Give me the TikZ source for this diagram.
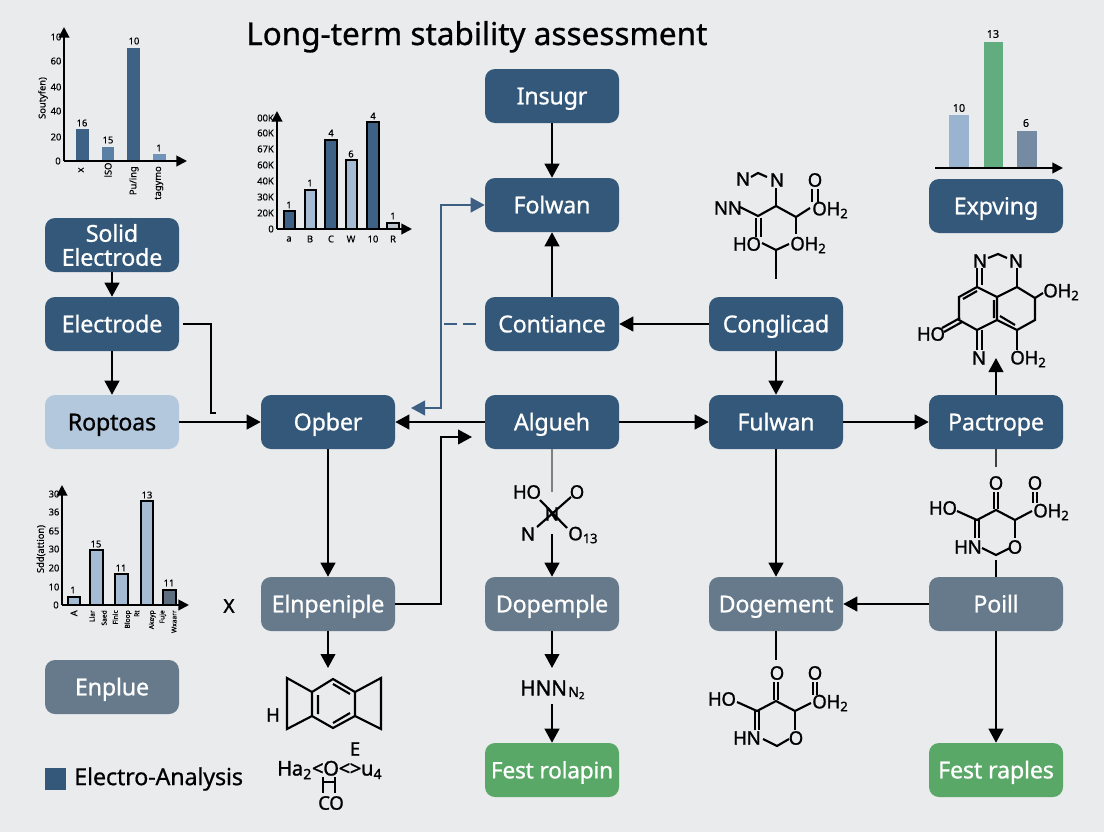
\documentclass[tikz,border=0pt]{standalone}
\usepackage{fontspec}
\setmainfont{Noto Sans}
\usetikzlibrary{arrows.meta}
\definecolor{bgc}{HTML}{EAEBED}
\definecolor{navy}{HTML}{33587A}
\definecolor{pale}{HTML}{B3C8DD}
\definecolor{slate}{HTML}{667A8B}
\definecolor{leaf}{HTML}{5AA868}
\definecolor{wireblue}{HTML}{3E5F84}
\definecolor{barA}{HTML}{3D6286}
\definecolor{barB}{HTML}{5A80A5}
\definecolor{barC}{HTML}{7094B8}
\definecolor{barD}{HTML}{A5BBD4}
\definecolor{barE}{HTML}{C0C6CE}
\definecolor{barF}{HTML}{5C6E80}
\definecolor{barG}{HTML}{9AB3CF}
\definecolor{barH}{HTML}{62AD80}
\definecolor{barI}{HTML}{748BA3}
\newcount\lblc
\newcommand{\lb}[4][]{\global\advance\lblc by 1 \node[chartlabel,#1] (lbl\the\lblc) at (#2,#3) {#4};}
\newcommand{\ch}[4][]{\global\advance\lblc by 1 \node[chemlabel,#1] (lbl\the\lblc) at (#2,#3) {#4};}
\tikzset{
  box/.style={rounded corners=7.5pt,minimum width=100.5pt,minimum height=40.5pt,inner sep=0pt,text=white,text height=12.5pt,text depth=0pt,font=\fontsize{17.5}{20}\selectfont\addfontfeature{LetterSpace=-1,FakeBold=0.8}},
  navybox/.style={box,fill=navy},
  palebox/.style={box,fill=pale,text=black},
  slatebox/.style={box,fill=slate},
  leafbox/.style={box,fill=leaf},
  wire/.style={line width=1.5pt,draw=black},
  arrowed/.style={wire,-{Triangle[length=10.5pt,width=11pt]}},
  chartlabel/.style={inner sep=0pt,font=\fontsize{7}{8}\selectfont\addfontfeature{FakeBold=0.5},text=black},
  chemlabel/.style={inner sep=0pt,font=\fontsize{14}{16}\selectfont\addfontfeature{LetterSpace=-2,FakeBold=1.2},text=black},
  bond/.style={line width=1.6pt,draw=black},
  axis/.style={line width=1.5pt,draw=black,-{Triangle[length=8pt,width=8pt]}},
  obar/.style={draw=black,line width=1.1pt},
}
\begin{document}
\begin{tikzpicture}[x=0.75pt,y=-0.75pt]
\useasboundingbox (0,0) rectangle (1104,832);
\fill[bgc] (0,0) rectangle (1104,832);
% title
\node[inner sep=0pt,anchor=base west,font=\fontsize{23.6}{28}\selectfont\addfontfeature{FakeBold=0.8}] (title) at (246,45) {Long-term stability assessment};
% boxes
\node[navybox,align=center,text height={},text depth={},font=\fontsize{17.5}{18}\selectfont\addfontfeature{LetterSpace=-1,FakeBold=0.8}] (solid) at (112,245) {Solid\\Electrode};
\node[navybox] (electrode) at (112,324) {Electrode};
\node[palebox] (roptoas) at (112,422) {Roptoas};
\node[navybox] (opber) at (328,422) {Opber};
\node[navybox] (insugr) at (552,96) {Insugr};
\node[navybox] (folwan) at (552,205) {Folwan};
\node[navybox] (contiance) at (552,324) {Contiance};
\node[navybox] (algueh) at (552,422) {Algueh};
\node[navybox] (conglicad) at (776,324) {Conglicad};
\node[navybox] (fulwan) at (776,422) {Fulwan};
\node[navybox] (pactrope) at (996,422) {Pactrope};
\node[navybox] (expving) at (996,206) {Expving};
\node[slatebox] (elnpeniple) at (328,604) {Elnpeniple};
\node[slatebox] (dopemple) at (552,604) {Dopemple};
\node[slatebox] (dogement) at (776,604) {Dogement};
\node[slatebox] (poill) at (996,604) {Poill};
\node[slatebox] (enplue) at (112,687) {Enplue};
\node[leafbox,font=\fontsize{17}{20}\selectfont\addfontfeature{LetterSpace=-1,FakeBold=0.8}] (festa) at (552,770) {Fest rolapin};
\node[leafbox] (festb) at (996,770) {Fest raples};
% legend
\node[fill=navy,minimum width=15.75pt,minimum height=16.5pt,inner sep=0pt] (legendkey) at (55.5,779) {};
\node[inner sep=0pt,anchor=west,font=\fontsize{17.6}{20}\selectfont\addfontfeature{LetterSpace=-1,FakeBold=0.6}] (legendtext) at (74,779) {Electro-Analysis};
\node[inner sep=0pt,font=\fontsize{14}{15}\selectfont\addfontfeature{FakeBold=2}] (xmark) at (229,606) {X};
% free ends
\coordinate (eA) at (183,324);
\coordinate (eB) at (211,324);
\coordinate (eC) at (211,413);
\coordinate (eD) at (216,413);
\coordinate (kA) at (441,604);
\coordinate (kB) at (441,437);
\coordinate (kC) at (472,437);
\coordinate (bA) at (441,205);
\coordinate (bB) at (441,408);
\coordinate (bC) at (411,408);
\coordinate (dA) at (444,324);
\coordinate (dB) at (476,324);
\coordinate (mF) at (328,668);
\coordinate (mEa) at (552,492);
\coordinate (mEb) at (552,534);
\coordinate (hnnA) at (552,668);
\coordinate (hnnB) at (552,704);
\coordinate (mB) at (996,358);
\coordinate (mCa) at (996,467);
\coordinate (mCb) at (996,560);
\coordinate (mD) at (776,660);
% connectors
\draw[arrowed] (solid) -- (electrode);
\draw[arrowed] (electrode) -- (roptoas);
\draw[arrowed] (roptoas) -- (opber);
\draw[wire] (eA) -- (eB) -- (eC) -- (eD);
\draw[arrowed] (opber) -- (elnpeniple);
\draw[arrowed] (elnpeniple) -- (mF);
\draw[arrowed] (elnpeniple) -- (kA) -- (kB) -- (kC);
\draw[arrowed] (algueh) -- (opber);
\draw[wireblue,line width=1.5pt,{Triangle[length=10.5pt,width=11pt]}-{Triangle[length=10.5pt,width=11pt]}] (bC) -- (bB) -- (bA) -- (folwan.west);
\draw[wireblue,line width=1.5pt,dash pattern=on 9.75pt off 4.5pt] (dA) -- (dB);
\draw[arrowed] (insugr) -- (folwan);
\draw[arrowed] (contiance) -- (folwan);
\draw[arrowed] (conglicad) -- (contiance);
\draw[arrowed] (conglicad) -- (fulwan);
\draw[arrowed] (algueh) -- (fulwan);
\draw[arrowed] (fulwan) -- (pactrope);
\draw[arrowed] (fulwan) -- (dogement);
\draw[arrowed] (poill) -- (dogement);
\draw[arrowed] (poill) -- (festb);
\draw[arrowed] (pactrope) -- (mB);
\draw[wire,draw=black!75] (pactrope) -- (mCa);
\draw[wire] (mCb) -- (poill);
\draw[wire,draw=black!50] (algueh) -- (mEa);
\draw[arrowed] (mEb) -- (dopemple);
\draw[arrowed] (dopemple) -- (hnnA);
\draw[arrowed] (hnnB) -- (festa);
\draw[wire] (dogement) -- (mD);
% chart 1
\fill[barA] (76,129) rectangle (89,161);
\fill[barB] (102,147) rectangle (114,161);
\fill[barA] (127,48) rectangle (140,161);
\fill[barC] (153,154) rectangle (166,161);
\draw[axis] (64,161) -- (64,27);
\draw[axis] (64,161) -- (187,161);
\lb{56}{37}{10}\lb{56}{61}{60}\lb{56}{87}{40}\lb{56}{111}{40}\lb{56}{137}{20}\lb{58}{161}{0}
\lb{82}{123}{16}\lb{108}{140}{15}\lb{134}{41}{10}\lb{159}{148}{1}
\lb[rotate=90]{43}{98}{Soutyfen)}
\lb[rotate=90]{81}{170}{x}\lb[rotate=90]{108}{170}{lSO}\lb[rotate=90,anchor=east]{134}{166}{Pu/ing}\lb[rotate=90,anchor=east]{159}{166}{tagymo}
% chart 2
\draw[obar,fill=barA] (284,211) rectangle (295,229);
\draw[obar,fill=barD] (305,190) rectangle (316,229);
\draw[obar,fill=barA] (325,140) rectangle (337,229);
\draw[obar,fill=barD] (346,160) rectangle (357,229);
\draw[obar,fill=barA] (367,122) rectangle (379,229);
\draw[obar,fill=barE] (387,223) rectangle (399,229);
\draw[axis] (277,229) -- (277,111);
\draw[axis] (277,229) -- (412,229);
\lb[anchor=east]{274}{118}{00K}\lb[anchor=east]{274}{133}{60K}\lb[anchor=east]{274}{149}{67K}\lb[anchor=east]{274}{165}{60K}\lb[anchor=east]{274}{181}{40K}\lb[anchor=east]{274}{197}{30K}\lb[anchor=east]{274}{213}{20K}\lb[anchor=east]{274}{229}{0}
\lb{289}{205}{1}\lb{310}{183}{1}\lb{331}{133}{4}\lb{351}{154}{6}\lb{373}{116}{4}\lb{393}{216}{1}
\lb{289}{239}{a}\lb{310}{239}{B}\lb{331}{239}{C}\lb{351}{239}{W}\lb{373}{239}{10}\lb{393}{239}{R}
% chart 3
\draw[obar,fill=barD] (68,597) rectangle (80,605);
\draw[obar,fill=barD] (90,550) rectangle (103,605);
\draw[obar,fill=barD] (115,574) rectangle (128,605);
\draw[obar,fill=barD] (141,501) rectangle (153,605);
\draw[obar,fill=barF] (163,590) rectangle (176,605);
\draw[axis] (62,605) -- (62,485);
\draw[axis] (62,605) -- (189,605);
\lb{54}{494}{30}\lb{54}{512}{36}\lb{54}{531}{65}\lb{54}{549}{30}\lb{54}{568}{20}\lb{54}{587}{10}\lb{56}{605}{0}
\lb[rotate=90]{41}{549}{Sdd(attion)}
\lb{73}{590}{1}\lb{96}{544}{15}\lb{121}{568}{11}\lb{147}{495}{13}\lb{169}{583}{11}
\lb[rotate=90,anchor=east]{74}{610}{A}
\lb[rotate=90,anchor=east,align=right,font=\fontsize{5}{9}\selectfont\addfontfeature{FakeBold=0.5}]{98}{610}{Llar\\Saed}
\lb[rotate=90,anchor=east,align=right,font=\fontsize{5}{9}\selectfont\addfontfeature{FakeBold=0.5}]{122}{610}{Flnlc\\Bloop}
\lb[rotate=90,anchor=east,align=right,font=\fontsize{5}{11}\selectfont\addfontfeature{FakeBold=0.5}]{145}{610}{Rt\\Akeyp}
\lb[rotate=90,anchor=east,align=right,font=\fontsize{5}{9}\selectfont\addfontfeature{FakeBold=0.5}]{168}{610}{Fuje\\Wxaarr}
% chart 4
\fill[barG] (949,115) rectangle (969,168);
\fill[barH] (984,42) rectangle (1003,168);
\fill[barI] (1017,131) rectangle (1037,168);
\draw[axis] (935,168) -- (1063,168);
\lb[font=\fontsize{8}{9}\selectfont\addfontfeature{FakeBold=0.5}]{959}{108}{10}\lb[font=\fontsize{8}{9}\selectfont\addfontfeature{FakeBold=0.5}]{993}{34}{13}\lb[font=\fontsize{8}{9}\selectfont\addfontfeature{FakeBold=0.5}]{1026}{123}{6}
% molecule A
\ch{743}{179}{N}\ch{777}{180}{N}\ch{815}{180}{O}\ch[anchor=west]{812}{210}{OH\textsubscript{2}}\ch{728}{208}{NN}\ch{747}{244}{HO}\ch[anchor=west]{790}{245}{OH\textsubscript{2}}
\draw[bond] (751,177) -- (758,173) -- (767,177);
\draw[bond] (776,188) -- (776,206);
\draw[bond] (740,207) -- (758,216) -- (776,206) -- (796,217) -- (810,208);
\draw[bond] (812,189) -- (812,202) (818,189) -- (818,202);
\draw[bond] (796,217) -- (796,234);
\draw[bond] (756,218) -- (756,237) (761,218) -- (761,237);
\draw[bond] (762,243) -- (776,250) -- (789,244);
\draw[bond] (776,250) -- (776,279);
% molecule B
\ch{980}{261}{N}\ch{1016}{261}{N}\ch[anchor=west]{1043}{292}{OH\textsubscript{2}}\ch{931}{334}{HO}\ch{979}{358}{N}\ch[anchor=west]{1010}{359}{OH\textsubscript{2}}
\draw[bond] (988,258) -- (998,254) -- (1007,258);
\draw[bond] (977,268) -- (977,287) (982,268) -- (982,285);
\draw[bond] (1017,268) -- (1017,287);
\draw[bond] (977,287) -- (959,297) -- (959,320) -- (977,330) -- (997,320) -- (997,297) -- cycle;
\draw[bond] (963,299) -- (977,291) (994,300) -- (994,318);
\draw[bond] (997,297) -- (1017,287) -- (1035,298) -- (1035,320) -- (1017,330) -- (997,320);
\draw[bond] (1000,316) -- (1015,325);
\draw[bond] (1035,298) -- (1043,293);
\draw[bond] (960,318) -- (942,328) (962,322) -- (944,332);
\draw[bond] (977,330) -- (977,350) (982,330) -- (982,350);
\draw[bond] (1017,330) -- (1017,350);
% molecule C
\ch{996}{483}{O}\ch{1035}{483}{O}\ch[anchor=west]{1033}{512}{OH\textsubscript{2}}\ch{943}{508}{HO}\ch{968}{547}{HN}\ch{1015}{547}{O}
\draw[bond] (994,492) -- (994,509) (998,492) -- (998,509);
\draw[bond] (1033,492) -- (1033,503) (1037,492) -- (1037,503);
\draw[bond] (957,511) -- (977,520) -- (996,510) -- (1015,520) -- (1032,511);
\draw[bond] (1015,520) -- (1015,538);
\draw[bond] (975,520) -- (975,538) (979,520) -- (979,538);
\draw[bond] (982,548) -- (996,555) -- (1010,548);
% molecule D
\ch{777}{673}{O}\ch{815}{673}{O}\ch[anchor=west]{812}{703}{OH\textsubscript{2}}\ch{722}{699}{HO}\ch{747}{738}{HN}\ch{796}{738}{O}
\draw[bond] (737,702) -- (757,711) -- (776,701) -- (795,711) -- (811,703);
\draw[bond] (774,682) -- (774,700) (778,682) -- (778,700);
\draw[bond] (795,711) -- (795,730);
\draw[bond] (813,682) -- (813,695) (817,682) -- (817,695);
\draw[bond] (755,711) -- (755,730) (759,711) -- (759,730);
\draw[bond] (763,739) -- (777,746) -- (789,739);
% molecule E
\ch{527}{492}{HO}\ch{577}{492}{O}\ch{528}{534}{N}\ch{552}{514}{N}\ch[anchor=west]{568}{535}{O\textsubscript{13}}
\draw[bond] (540,500) -- (567,528);
\draw[bond] (571,497) -- (537,527);
% molecule F
\ch{273}{715}{H}\ch{355}{749}{E}\ch[anchor=west,font=\fontsize{15.2}{17}\selectfont\addfontfeature{LetterSpace=-2,FakeBold=1.2}]{277}{770}{Ha\textsubscript{2}<O<>u\textsubscript{4}}\ch{331}{803}{CO}
\draw[bond] (333,679) -- (355,692) -- (355,716) -- (333,728) -- (312,716) -- (312,692) -- cycle;
\draw[bond] (312,692) -- (287,678) -- (287,729) -- (312,716);
\draw[bond] (355,692) -- (381,678) -- (381,729) -- (355,716);
\draw[bond] (318,695) -- (318,714) (333,684) -- (350,694) (333,723) -- (350,713);
\draw[bond] (323,777) -- (323,793) (335,777) -- (335,793) (323,782) -- (335,782);
% HNN
\ch[anchor=west,font=\fontsize{15.5}{18}\selectfont\addfontfeature{FakeBold=1.5}]{520}{688}{HNN}\ch[anchor=west,font=\fontsize{10.5}{12}\selectfont\addfontfeature{FakeBold=1.5}]{568}{693}{N\textsubscript{2}}
\end{tikzpicture}
\end{document}
